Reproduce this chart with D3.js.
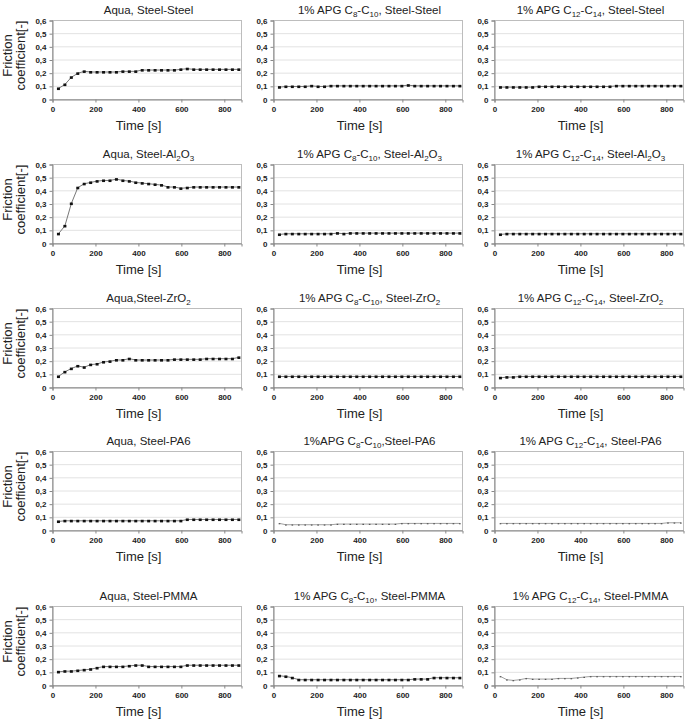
<!DOCTYPE html>
<html>
<head>
<meta charset="utf-8">
<script src="https://cdn.jsdelivr.net/npm/d3@7"></script>
<style>
  body { margin: 0; background: #fff; }
  svg { font-family: Arial, "Liberation Sans", sans-serif; }
</style>
</head>
<body>
<svg id="chart" width="685" height="719"></svg>
<script>
// time points of every measurement [s]
const times = [30,60,90,120,150,180,210,240,270,300,330,360,390,420,450,480,510,540,570,600,630,660,690,720,750,780,810,840,870];

const yTicks = [0, 0.1, 0.2, 0.3, 0.4, 0.5, 0.6];
const xTicks = [0, 200, 400, 600, 800];

// panel titles, _{..} marks a subscript
const titles = [
  "Aqua, Steel-Steel", "1% APG C_{8}-C_{10}, Steel-Steel", "1% APG C_{12}-C_{14}, Steel-Steel",
  "Aqua, Steel-Al_{2}O_{3}", "1% APG C_{8}-C_{10}, Steel-Al_{2}O_{3}", "1% APG C_{12}-C_{14}, Steel-Al_{2}O_{3}",
  "Aqua,Steel-ZrO_{2}", "1% APG C_{8}-C_{10}, Steel-ZrO_{2}", "1% APG C_{12}-C_{14}, Steel-ZrO_{2}",
  "Aqua, Steel-PA6", "1%APG C_{8}-C_{10},Steel-PA6", "1% APG C_{12}-C_{14}, Steel-PA6",
  "Aqua, Steel-PMMA", "1% APG C_{8}-C_{10}, Steel-PMMA", "1% APG C_{12}-C_{14}, Steel-PMMA"
];

// friction coefficient series, one per panel
const aquaSteel   = [0.08,0.11,0.165,0.195,0.21,0.205,0.205,0.205,0.205,0.205,0.21,0.21,0.21,0.22,0.22,0.22,0.22,0.22,0.22,0.225,0.23,0.225,0.225,0.225,0.225,0.225,0.225,0.225,0.225];
const c8Steel     = [0.09,0.095,0.095,0.095,0.095,0.1,0.095,0.095,0.1,0.1,0.1,0.1,0.1,0.1,0.1,0.1,0.1,0.1,0.1,0.1,0.105,0.1,0.1,0.1,0.1,0.1,0.1,0.1,0.1];
const c12Steel    = [0.09,0.09,0.09,0.09,0.09,0.09,0.095,0.095,0.095,0.095,0.095,0.095,0.095,0.095,0.095,0.095,0.095,0.095,0.1,0.1,0.1,0.1,0.1,0.1,0.1,0.1,0.1,0.1,0.1];
const aquaAl2O3   = [0.07,0.13,0.30,0.42,0.45,0.46,0.47,0.475,0.475,0.485,0.475,0.47,0.46,0.455,0.45,0.445,0.44,0.425,0.425,0.415,0.42,0.425,0.425,0.425,0.425,0.425,0.425,0.425,0.425];
const c8Al2O3     = [0.065,0.07,0.07,0.07,0.07,0.07,0.07,0.07,0.07,0.075,0.07,0.075,0.075,0.075,0.075,0.075,0.075,0.075,0.075,0.075,0.075,0.075,0.075,0.075,0.075,0.075,0.075,0.075,0.075];
const c12Al2O3    = [0.065,0.07,0.07,0.07,0.07,0.07,0.07,0.07,0.07,0.07,0.07,0.07,0.07,0.07,0.07,0.07,0.07,0.07,0.07,0.07,0.07,0.07,0.07,0.07,0.07,0.07,0.07,0.07,0.07];
const aquaZrO2    = [0.08,0.115,0.14,0.16,0.15,0.17,0.175,0.19,0.195,0.205,0.205,0.215,0.205,0.205,0.205,0.205,0.205,0.205,0.21,0.21,0.21,0.21,0.21,0.215,0.215,0.215,0.215,0.215,0.225];
const c8ZrO2      = [0.08,0.08,0.08,0.08,0.08,0.08,0.08,0.08,0.08,0.08,0.08,0.08,0.08,0.08,0.08,0.08,0.08,0.08,0.08,0.08,0.08,0.08,0.08,0.08,0.08,0.08,0.08,0.08,0.08];
const c12ZrO2     = [0.07,0.075,0.075,0.08,0.08,0.08,0.08,0.08,0.08,0.08,0.08,0.08,0.08,0.08,0.08,0.08,0.08,0.08,0.08,0.08,0.08,0.08,0.08,0.08,0.08,0.08,0.08,0.08,0.08];
const aquaPA6     = [0.065,0.07,0.07,0.07,0.07,0.07,0.07,0.07,0.07,0.07,0.07,0.07,0.07,0.07,0.07,0.07,0.07,0.07,0.07,0.07,0.08,0.08,0.08,0.08,0.08,0.08,0.08,0.08,0.08];
const c8PA6       = [0.05,0.04,0.04,0.04,0.04,0.04,0.04,0.04,0.04,0.045,0.045,0.045,0.045,0.045,0.045,0.045,0.045,0.045,0.045,0.05,0.05,0.05,0.05,0.05,0.05,0.05,0.05,0.05,0.05];
const c12PA6      = [0.05,0.05,0.05,0.05,0.05,0.05,0.05,0.05,0.05,0.05,0.05,0.05,0.05,0.05,0.05,0.05,0.05,0.05,0.05,0.05,0.05,0.05,0.05,0.05,0.05,0.05,0.055,0.055,0.055];
const aquaPMMA    = [0.1,0.105,0.105,0.11,0.115,0.12,0.13,0.14,0.14,0.14,0.14,0.145,0.15,0.15,0.14,0.14,0.14,0.14,0.14,0.14,0.15,0.15,0.15,0.15,0.15,0.15,0.15,0.15,0.15];
const c8PMMA      = [0.07,0.065,0.055,0.04,0.04,0.04,0.04,0.04,0.04,0.04,0.04,0.04,0.04,0.04,0.04,0.04,0.04,0.04,0.04,0.04,0.04,0.045,0.045,0.045,0.055,0.055,0.055,0.055,0.055];
const c12PMMA     = [0.065,0.04,0.035,0.04,0.05,0.045,0.045,0.045,0.045,0.05,0.05,0.05,0.055,0.06,0.065,0.065,0.065,0.065,0.065,0.065,0.065,0.065,0.065,0.065,0.065,0.065,0.065,0.065,0.065];

const series = [
  aquaSteel, c8Steel, c12Steel,
  aquaAl2O3, c8Al2O3, c12Al2O3,
  aquaZrO2, c8ZrO2, c12ZrO2,
  aquaPA6, c8PA6, c12PA6,
  aquaPMMA, c8PMMA, c12PMMA
];

// layout
const colLeft = [52, 273, 494];
const rowTop = [20, 164, 308, 451, 606];
const plotW = 189, plotH = 79;
// panels drawn with tiny markers
const thinPanels = [10, 11, 14];

const svg = d3.select("#chart");

const xScale = d3.scaleLinear().domain([0, 880]).range([0, plotW]);
const yScale = d3.scaleLinear().domain([0, 0.6]).range([plotH, 0]);

series.forEach(function (values, i) {
    const col = i % 3, row = Math.floor(i / 3);
    const g = svg.append("g")
        .attr("transform", "translate(" + colLeft[col] + "," + rowTop[row] + ")");
    drawPanel(g, values, titles[i], col === 0, thinPanels.indexOf(i) >= 0);
});

function drawPanel(g, values, title, withYLabel, thin) {
    // gridlines
    g.append("g")
        .selectAll("line")
        .data(yTicks.slice(1, -1))
        .join("line")
        .attr("x1", 0).attr("x2", plotW)
        .attr("y1", d => yScale(d) + 0.5).attr("y2", d => yScale(d) + 0.5)
        .attr("stroke", "#e2e2e2")
        .attr("stroke-width", 1);

    // frame
    g.append("rect")
        .attr("x", 0.5).attr("y", 0.5)
        .attr("width", plotW).attr("height", plotH)
        .attr("fill", "none")
        .attr("stroke", "#bdbdbd");

    const yAxis = g.append("g")
        .attr("transform", "translate(0.5,0.5)")
        .call(d3.axisLeft(yScale).tickValues(yTicks).tickSize(3).tickPadding(3)
            .tickFormat(d => d === 0 ? "0" : d3.format(".1f")(d).replace(".", ",")));
    const xAxis = g.append("g")
        .attr("transform", "translate(0.5," + (plotH + 0.5) + ")")
        .call(d3.axisBottom(xScale).tickValues(xTicks).tickSize(3).tickPadding(4));
    [xAxis, yAxis].forEach(function (ax) {
        ax.select(".domain").attr("stroke", "#888");
        ax.selectAll(".tick line").attr("stroke", "#888");
        ax.selectAll("text")
            .attr("font-family", "Arial, 'Liberation Sans', sans-serif")
            .attr("font-size", "8px")
            .attr("font-weight", "bold")
            .attr("fill", "#222");
    });

    // title with subscripts
    const t = g.append("text")
        .attr("x", plotW / 2 + 2)
        .attr("y", -6)
        .attr("text-anchor", "middle")
        .attr("font-size", "11.5px")
        .attr("fill", "#222");
    const parts = title.split(/(_\{[^}]*\})/).filter(s => s.length);
    let shifted = false;
    parts.forEach(function (p) {
        const m = p.match(/^_\{([^}]*)\}$/);
        if (m) {
            t.append("tspan").attr("dy", shifted ? 0 : 2.5).attr("font-size", "8px").text(m[1]);
            shifted = true;
        } else {
            t.append("tspan").attr("dy", shifted ? -2.5 : 0).text(p);
            shifted = false;
        }
    });

    g.append("text")
        .attr("x", plotW / 2 - 8)
        .attr("y", plotH + 31)
        .attr("text-anchor", "middle")
        .attr("font-size", "13px")
        .attr("fill", "#222")
        .text("Time [s]");

    if (withYLabel) {
        const yl = g.append("text")
            .attr("transform", "translate(-40," + (plotH / 2 - 4) + ") rotate(-90)")
            .attr("text-anchor", "middle")
            .attr("font-size", "13px")
            .attr("fill", "#222");
        yl.append("tspan").attr("x", 0).attr("y", 0).text("Friction");
        yl.append("tspan").attr("x", 0).attr("y", 12.5).text("coefficient[-]");
    }

    const pts = times.map((t, k) => ({x: t, y: values[k]}));

    g.append("path")
        .datum(pts)
        .attr("fill", "none")
        .attr("stroke", thin ? "#888" : "#777")
        .attr("stroke-width", thin ? 0.8 : 1)
        .attr("d", d3.line()
            .x(d => xScale(d.x))
            .y(d => yScale(d.y)));

    const ms = thin ? 1.6 : 3;
    g.append("g")
        .selectAll("rect")
        .data(pts)
        .join("rect")
        .attr("x", d => xScale(d.x) - ms / 2)
        .attr("y", d => yScale(d.y) - ms / 2 + 0.5)
        .attr("width", ms)
        .attr("height", thin ? 1.2 : 2.6)
        .attr("fill", thin ? "#555" : "#111");
}
</script>
</body>
</html>
